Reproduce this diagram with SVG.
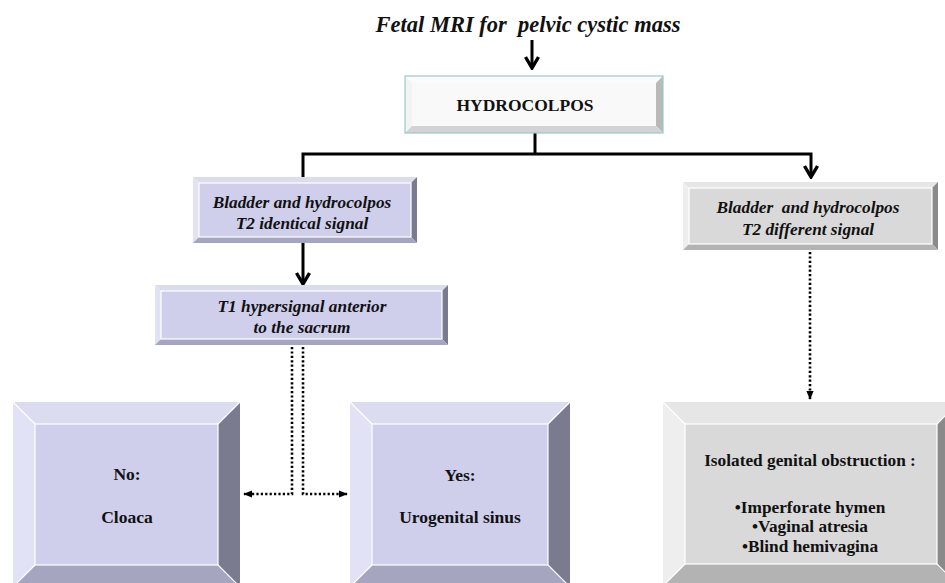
<svg xmlns="http://www.w3.org/2000/svg" width="945" height="583" viewBox="0 0 945 583">
<style>
  text { font-family: "Liberation Serif", "Times New Roman", serif; font-weight: bold; fill: #111; text-anchor: middle; }
  .it { font-style: italic; }
  .sep { stroke: #ffffff; stroke-width: 1.2; fill: none; }
  .lv-face { fill: #cfcfec; } .lv-top { fill: #dcdcf1; } .lv-left { fill: #e2e2f6; } .lv-right { fill: #7b7b8f; } .lv-bot { fill: #a5a5c0; }
  .gr-face { fill: #d9d9d9; } .gr-top { fill: #e6e6e6; } .gr-left { fill: #eeeeee; } .gr-right { fill: #8a8a8a; } .gr-bot { fill: #b3b3b3; }
  .wh-face { fill: #f9f9f9; } .wh-top { fill: #fbfbfb; } .wh-left { fill: #f3f3f3; } .wh-right { fill: #b9b9b9; } .wh-bot { fill: #d3d3d3; }
  .solid { stroke: #000; stroke-width: 3; fill: none; }
  .dot { stroke: #000; stroke-width: 2.6; fill: none; stroke-dasharray: 2.2 2.2; }
</style>
<defs>
  <marker id="chev" viewBox="0 0 16 16" refX="14" refY="8" markerWidth="16" markerHeight="16" markerUnits="userSpaceOnUse" orient="auto">
    <path d="M3,1.5 L14,8 L3,14.5" stroke="#000" stroke-width="3.4" fill="none" stroke-linejoin="miter"/>
  </marker>
  <marker id="tri" viewBox="0 0 10 10" refX="9" refY="5" markerWidth="9" markerHeight="9" markerUnits="userSpaceOnUse" orient="auto">
    <path d="M0,1 L10,5 L0,9 Z" fill="#000"/>
  </marker>
</defs>

<text class="it" x="528" y="32" font-size="22.5" xml:space="preserve">Fetal MRI for  pelvic cystic mass</text>

<g id="connectors">
  <line class="solid" x1="532" y1="40" x2="532" y2="68" marker-end="url(#chev)"/>
  <polyline class="solid" points="535,133 535,154"/>
  <polyline class="solid" points="303,177 303,154 811,154 811,177" marker-end="url(#chev)"/>
  <line class="solid" x1="303" y1="243" x2="303" y2="284" marker-end="url(#chev)"/>
  <polyline class="dot" points="292,347 292,494 244,494" marker-end="url(#tri)"/>
  <polyline class="dot" points="303,347 303,494 347,494" marker-end="url(#tri)"/>
  <line class="dot" x1="810" y1="252" x2="810" y2="399" marker-end="url(#tri)"/>
</g>

<g id="hydrocolpos">
  <polygon class="wh-top" points="405,76 663,76 656,83 412,83"/>
  <polygon class="wh-left" points="405,76 412,83 412,126 405,133"/>
  <polygon class="wh-right" points="663,76 663,133 656,126 656,83"/>
  <polygon class="wh-bot" points="405,133 663,133 656,126 412,126"/>
  <rect class="wh-face" x="412" y="83" width="244" height="43"/>
  <rect x="405" y="76" width="258" height="57" fill="none" stroke="#9cc9c9" stroke-width="1.2"/>
  <text x="525" y="111" font-size="17.5">HYDROCOLPOS</text>
</g>

<g id="t2-identical">
  <polygon class="lv-top" points="193,177 417,177 411,183 199,183"/>
  <polygon class="lv-left" points="193,177 199,183 199,237 193,243"/>
  <polygon class="lv-right" points="417,177 417,243 411,237 411,183"/>
  <polygon class="lv-bot" points="193,243 417,243 411,237 199,237"/>
  <rect class="lv-face" x="199" y="183" width="212" height="54"/>
  <rect class="sep" x="199" y="183" width="212" height="54"/>
  <text class="it" x="302" y="208" font-size="17.3">Bladder and hydrocolpos</text>
  <text class="it" x="302" y="229" font-size="17.3">T2 identical signal</text>
</g>

<g id="t1-hypersignal">
  <polygon class="lv-top" points="155,285 448,285 442,291 161,291"/>
  <polygon class="lv-left" points="155,285 161,291 161,339 155,345"/>
  <polygon class="lv-right" points="448,285 448,345 442,339 442,291"/>
  <polygon class="lv-bot" points="155,345 448,345 442,339 161,339"/>
  <rect class="lv-face" x="161" y="291" width="281" height="48"/>
  <rect class="sep" x="161" y="291" width="281" height="48"/>
  <text class="it" x="302" y="312" font-size="17.3">T1 hypersignal anterior</text>
  <text class="it" x="302" y="333" font-size="17.3">to the sacrum</text>
</g>

<g id="t2-different">
  <polygon class="gr-top" points="683,182 938,182 932,188 689,188"/>
  <polygon class="gr-left" points="683,182 689,188 689,244 683,250"/>
  <polygon class="gr-right" points="938,182 938,250 932,244 932,188"/>
  <polygon class="gr-bot" points="683,250 938,250 932,244 689,244"/>
  <rect class="gr-face" x="689" y="188" width="243" height="56"/>
  <rect class="sep" x="689" y="188" width="243" height="56"/>
  <text class="it" x="808" y="213" font-size="17.3" xml:space="preserve">Bladder  and hydrocolpos</text>
  <text class="it" x="808" y="235" font-size="17.3">T2 different signal</text>
</g>

<g id="cloaca">
  <polygon class="lv-top" points="13,402 240,402 218,424 35,424"/>
  <polygon class="lv-left" points="13,402 35,424 35,565 13,587"/>
  <polygon class="lv-right" points="240,402 240,587 218,565 218,424"/>
  <polygon class="lv-bot" points="13,587 240,587 218,565 35,565"/>
  <rect class="lv-face" x="35" y="424" width="183" height="141"/>
  <path class="sep" d="M13,402 L35,424 M240,402 L218,424 M35,565 L13,587 M218,565 L240,587"/>
  <rect class="sep" x="35" y="424" width="183" height="141"/>
  <text x="127" y="480" font-size="17.5">No:</text>
  <text x="127" y="523" font-size="17.5">Cloaca</text>
</g>

<g id="urogenital-sinus">
  <polygon class="lv-top" points="350,402 570,402 548,424 372,424"/>
  <polygon class="lv-left" points="350,402 372,424 372,565 350,587"/>
  <polygon class="lv-right" points="570,402 570,587 548,565 548,424"/>
  <polygon class="lv-bot" points="350,587 570,587 548,565 372,565"/>
  <rect class="lv-face" x="372" y="424" width="176" height="141"/>
  <path class="sep" d="M350,402 L372,424 M570,402 L548,424 M372,565 L350,587 M548,565 L570,587"/>
  <rect class="sep" x="372" y="424" width="176" height="141"/>
  <text x="460" y="481" font-size="17.5">Yes:</text>
  <text x="460" y="523" font-size="17.5">Urogenital sinus</text>
</g>

<g id="isolated-obstruction">
  <polygon class="gr-top" points="663,402 959,402 937,424 685,424"/>
  <polygon class="gr-left" points="663,402 685,424 685,564 663,586"/>
  <polygon class="gr-right" points="959,402 959,586 937,564 937,424"/>
  <polygon class="gr-bot" points="663,586 959,586 937,564 685,564"/>
  <rect class="gr-face" x="685" y="424" width="252" height="140"/>
  <path class="sep" d="M663,402 L685,424 M959,402 L937,424 M685,564 L663,586 M937,564 L959,586"/>
  <rect class="sep" x="685" y="424" width="252" height="140"/>
  <text x="810" y="466" font-size="17.3" xml:space="preserve">Isolated genital obstruction :</text>
  <text x="810" y="513" font-size="17.3">•Imperforate hymen</text>
  <text x="810" y="532" font-size="17.3">•Vaginal atresia</text>
  <text x="810" y="552" font-size="17.3">•Blind hemivagina</text>
</g>
</svg>
